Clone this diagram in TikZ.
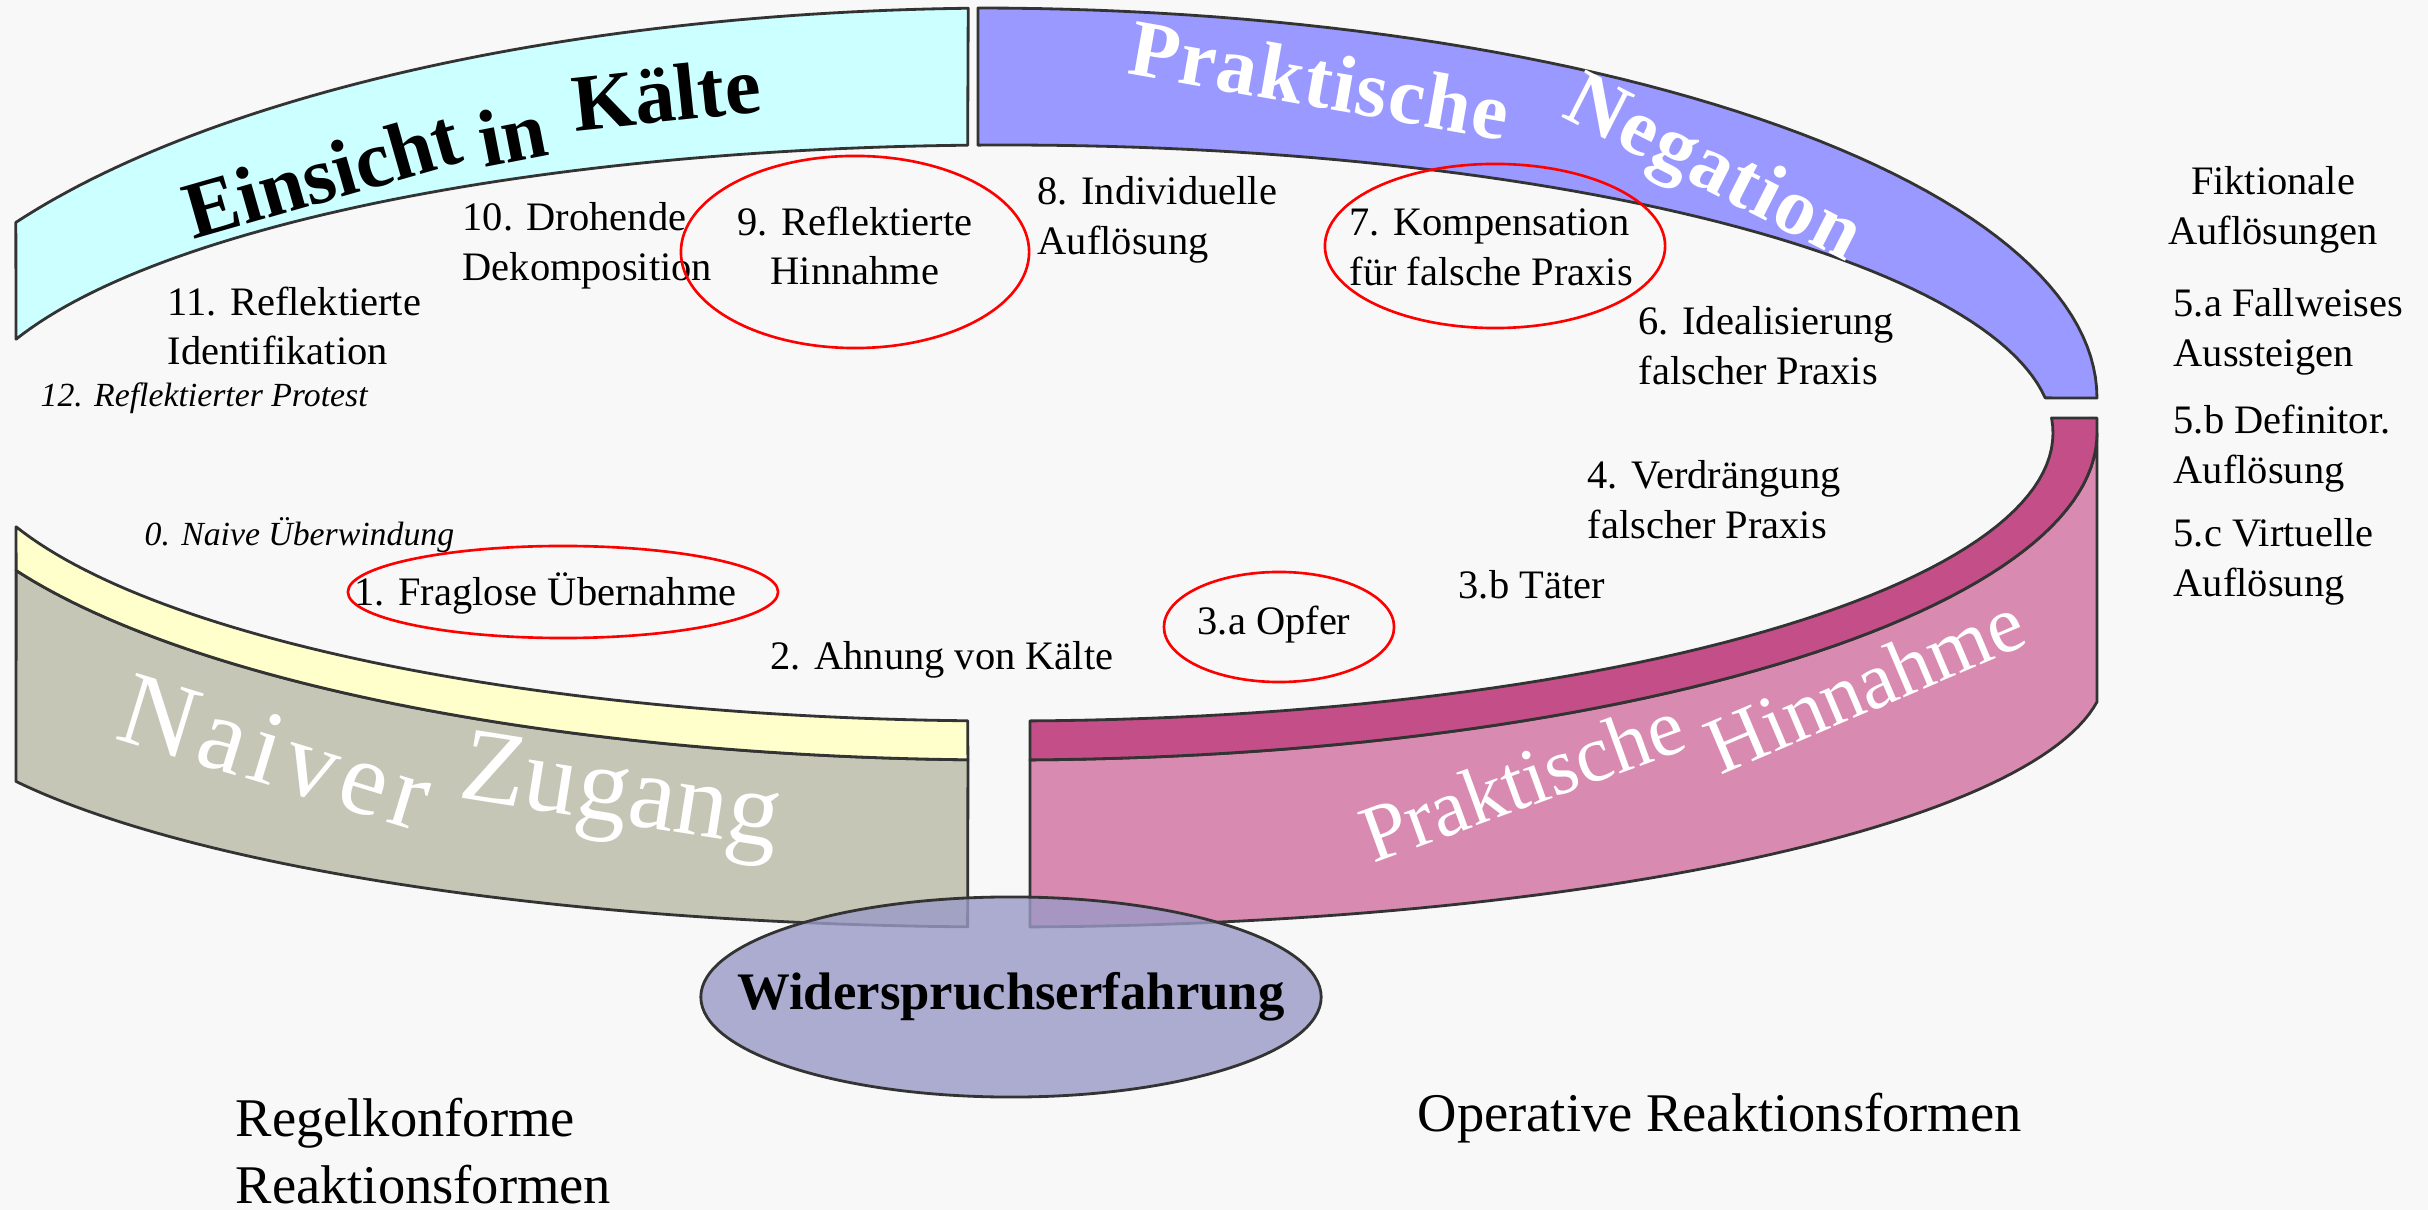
\documentclass[tikz,border=0pt]{standalone}
\usepackage{fontspec}
\setmainfont{Liberation Serif}
\usetikzlibrary{shapes.geometric}
\definecolor{bg}{HTML}{F8F8F8}
\definecolor{kaelte}{HTML}{CCFFFF}
\definecolor{negation}{HTML}{9999FF}
\definecolor{naivtop}{HTML}{FFFFCC}
\definecolor{naivwall}{HTML}{C6C6B6}
\definecolor{hinntop}{HTML}{C44E88}
\definecolor{hinnwall}{HTML}{D98AB0}
\definecolor{wider}{HTML}{9A9AC6}
\definecolor{edge}{HTML}{333333}
\tikzset{
  band/.style={draw=edge, line width=0.8pt, line join=round},
  lbl/.style={font=\fontsize{11.5}{14.2}\selectfont, align=left, anchor=west, inner sep=0pt},
  itlbl/.style={font=\fontsize{9.6}{12}\selectfont\itshape, anchor=west, inner sep=0pt},
  biglbl/.style={font=\fontsize{15.5}{19}\selectfont, align=left, anchor=west, inner sep=0pt},
  redring/.style={draw=red, line width=0.75pt},
  boldtitle/.style={inner sep=0pt, font=\fontsize{23}{23}\selectfont\bfseries},
  walltitle/.style={inner sep=0pt, text=white}
}
\begin{document}
\begin{tikzpicture}[x=0.01cm, y=-0.01cm]
  \fill[bg] (0,0) rectangle (2428,1210);
  \useasboundingbox (0,0) rectangle (2428,1210);

  \filldraw[band, fill=kaelte]
    plot[domain=91.9:150.3, samples=60] ({1006+1140*cos(\x)}, {433-425*sin(\x)})
    -- plot[domain=161:92.1, samples=60] ({1006+1047*cos(\x)}, {433-288*sin(\x)}) -- cycle;
  \filldraw[band, fill=negation]
    plot[domain=90:0, samples=60] ({978+1119*cos(\x)}, {398-390*sin(\x)})
    -- plot[domain=7:91.53, samples=60] ({1006+1047*cos(\x)}, {433-288*sin(\x)}) -- cycle;

  \filldraw[band, fill=naivwall]
    plot[domain=204.86:268, samples=60] ({1006+1091*cos(\x)}, {433-327*sin(\x)})
    -- plot[domain=268:205.84, samples=60] ({1006+1100*cos(\x)}, {669-258*sin(\x)}) -- cycle;
  \filldraw[band, fill=naivtop]
    plot[domain=199:267.9, samples=60] ({1006+1047*cos(\x)}, {433-288*sin(\x)})
    -- plot[domain=268:204.86, samples=60] ({1006+1091*cos(\x)}, {433-327*sin(\x)}) -- cycle;
  \filldraw[band, fill=hinnwall]
    plot[domain=271.26:360, samples=60] ({1006+1091*cos(\x)}, {433-327*sin(\x)})
    -- plot[domain=352.7:271.25, samples=60] ({1006+1100*cos(\x)}, {669-258*sin(\x)}) -- cycle;
  \filldraw[band, fill=hinntop]
    plot[domain=271.31:363, samples=60] ({1006+1047*cos(\x)}, {433-288*sin(\x)})
    -- (2097,418)
    -- plot[domain=360:271.26, samples=60] ({1006+1091*cos(\x)}, {433-327*sin(\x)}) -- cycle;

  \node[boldtitle, rotate=16] (einsicht) at (322,174) {Einsicht};
  \node[boldtitle, rotate=11] (in) at (512,134) {in};
  \node[boldtitle, rotate=6] (kaelte) at (666,94) {Kälte};
  \node[boldtitle, text=white, rotate=-10] (prak1) at (1320,80) {\addfontfeatures{LetterSpace=2}Praktische};
  \node[boldtitle, text=white, rotate=-27] (negat) at (1712,172) {\addfontfeatures{LetterSpace=2}Negation};
  \node[walltitle, font=\fontsize{30}{30}\selectfont, rotate=-17] (naiver) at (276,752) {\addfontfeatures{LetterSpace=6}Naiver};
  \node[walltitle, font=\fontsize{30}{30}\selectfont, rotate=-9] (zugang) at (620,800) {Zugang};
  \node[walltitle, font=\fontsize{23}{23}\selectfont, rotate=20] (prak2) at (1522,780) {Praktische};
  \node[walltitle, font=\fontsize{23}{23}\selectfont, rotate=23] (hinn) at (1865,684) {Hinnahme};

  \node[lbl] (l10) at (462,246) {10. Drohende\\Dekomposition};
  \node[lbl, align=center, anchor=center] (l9) at (855,246) {9. Reflektierte\\Hinnahme};
  \node[lbl] (l8) at (1037,220) {8. Individuelle\\Auflösung};
  \node[lbl] (l7) at (1349,247) {7. Kompensation\\für falsche Praxis};
  \node[lbl] (l6) at (1638,346) {6. Idealisierung\\falscher Praxis};
  \node[lbl] (l11) at (167,326) {11. Reflektierte\\Identifikation};
  \node[itlbl] (l12) at (40,398) {12. Reflektierter Protest};
  \node[itlbl] (l0) at (144,535) {0. Naive Überwindung};
  \node[lbl] (l1) at (354,593) {1. Fraglose Übernahme};
  \node[lbl] (l2) at (770,660) {2. Ahnung von Kälte};
  \node[lbl] (l3a) at (1197,625) {3.a Opfer};
  \node[lbl] (l3b) at (1458,585) {3.b Täter};
  \node[lbl] (l4) at (1587,500) {4. Verdrängung\\falscher Praxis};

  \node[lbl, align=center, anchor=center] (fik) at (2273,210) {Fiktionale\\Auflösungen};
  \node[lbl] (l5a) at (2173,332) {5.a Fallweises\\Aussteigen};
  \node[lbl] (l5b) at (2173,449) {5.b Definitor.\\Auflösung};
  \node[lbl] (l5c) at (2173,562) {5.c Virtuelle\\Auflösung};

  \draw[redring] (855,252) ellipse [x radius=1.74cm, y radius=0.96cm];
  \draw[redring] (1495,246) ellipse [x radius=1.70cm, y radius=0.82cm];
  \draw[redring] (563,592) ellipse [x radius=2.15cm, y radius=0.46cm];
  \draw[redring] (1279,627) ellipse [x radius=1.15cm, y radius=0.55cm];

  \coordinate (wc) at (1011,997);
  \filldraw[draw=edge, line width=0.8pt, fill=wider, fill opacity=0.8]
    (wc) ellipse [x radius=3.1cm, y radius=1.0cm];
  \node[inner sep=0pt, font=\fontsize{15}{18}\selectfont\bfseries] (wider) at (wc) {Widerspruchserfahrung};

  \node[biglbl] (regel) at (235,1151) {Regelkonforme\\Reaktionsformen};
  \node[biglbl] (oper) at (1417,1118) {Operative Reaktionsformen};
\end{tikzpicture}
\end{document}
